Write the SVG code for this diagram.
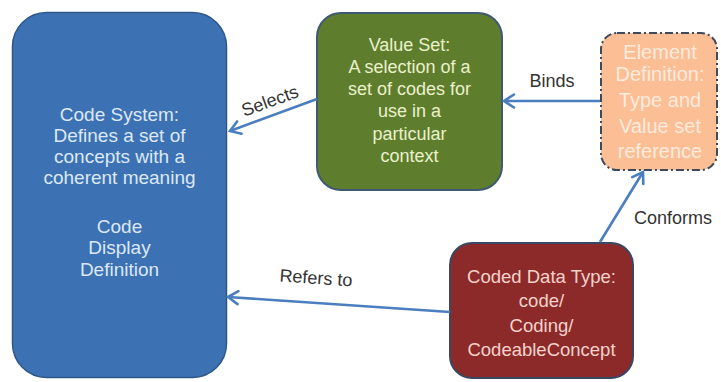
<svg xmlns="http://www.w3.org/2000/svg" width="721" height="382" viewBox="0 0 721 382">
<style>
  text { font-family: "Liberation Sans", Arial, sans-serif; text-anchor: middle; }
  .cs { fill: #DCE8F6; font-size: 19px; }
  .vs { fill: #EAF1CC; font-size: 18px; }
  .ed { fill: #FDEBDD; font-size: 20px; }
  .cd { fill: #F6D2CB; font-size: 18.5px; }
  .lbl { fill: #333333; font-size: 18px; }
  .conn { stroke: #4A7EBF; stroke-width: 2.6; fill: none; marker-end: url(#arr); }
</style>
<defs>
  <marker id="arr" markerUnits="userSpaceOnUse" markerWidth="16" markerHeight="16" viewBox="0 0 16 16" refX="14" refY="8" orient="auto">
    <path d="M4,1.5 L14,8 L4,14.5" fill="none" stroke="#4A7EBF" stroke-width="2.6" stroke-linecap="round" stroke-linejoin="miter"/>
  </marker>
</defs>
<rect x="0" y="0" width="721" height="382" fill="#ffffff"/>

<g id="code-system">
  <rect x="12.5" y="12.5" width="214" height="365" rx="34" ry="34" fill="#3C71B3" stroke="#2D5788" stroke-width="1.5"/>
  <text class="cs" x="119.5" y="121">Code System:</text>
  <text class="cs" x="119.5" y="142">Defines a set of</text>
  <text class="cs" x="119.5" y="163">concepts with a</text>
  <text class="cs" x="119.5" y="184">coherent meaning</text>
  <text class="cs" x="119.5" y="233">Code</text>
  <text class="cs" x="119.5" y="254">Display</text>
  <text class="cs" x="119.5" y="276">Definition</text>
</g>

<g id="value-set">
  <rect x="317" y="13" width="185" height="177" rx="24" ry="24" fill="#5F7E2D" stroke="#3E5A70" stroke-width="2"/>
  <text class="vs" x="409.5" y="51">Value Set:</text>
  <text class="vs" x="409.5" y="73">A selection of a</text>
  <text class="vs" x="409.5" y="95">set of codes for</text>
  <text class="vs" x="409.5" y="117">use in a</text>
  <text class="vs" x="409.5" y="140">particular</text>
  <text class="vs" x="409.5" y="162">context</text>
</g>

<g id="element-definition">
  <rect x="601" y="33" width="116" height="137" rx="16" ry="16" fill="#FBBE95" stroke="#3D4A5E" stroke-width="2" stroke-dasharray="8,3,2,3"/>
  <text class="ed" x="660" y="59">Element</text>
  <text class="ed" x="660" y="81">Definition:</text>
  <text class="ed" x="660" y="107">Type and</text>
  <text class="ed" x="660" y="133">Value set</text>
  <text class="ed" x="660" y="158">reference</text>
</g>

<g id="coded-data-type">
  <rect x="450" y="243" width="183" height="135" rx="22" ry="22" fill="#8C2A2A" stroke="#3A4763" stroke-width="2"/>
  <text class="cd" x="541.5" y="283">Coded Data Type:</text>
  <text class="cd" x="541.5" y="307">code/</text>
  <text class="cd" x="541.5" y="332">Coding/</text>
  <text class="cd" x="541.5" y="356">CodeableConcept</text>
</g>

<g id="connectors">
  <line class="conn" x1="317" y1="99" x2="230" y2="131"/>
  <line class="conn" x1="600" y1="101" x2="504" y2="101"/>
  <line class="conn" x1="600" y1="242" x2="643" y2="172"/>
  <line class="conn" x1="450" y1="312" x2="228" y2="297"/>
  <text class="lbl" x="270" y="107" transform="rotate(-20 270 101)">Selects</text>
  <text class="lbl" x="552" y="87">Binds</text>
  <text class="lbl" x="673" y="224">Conforms</text>
  <text class="lbl" x="316" y="284" transform="rotate(4 316 278)">Refers to</text>
</g>
</svg>
